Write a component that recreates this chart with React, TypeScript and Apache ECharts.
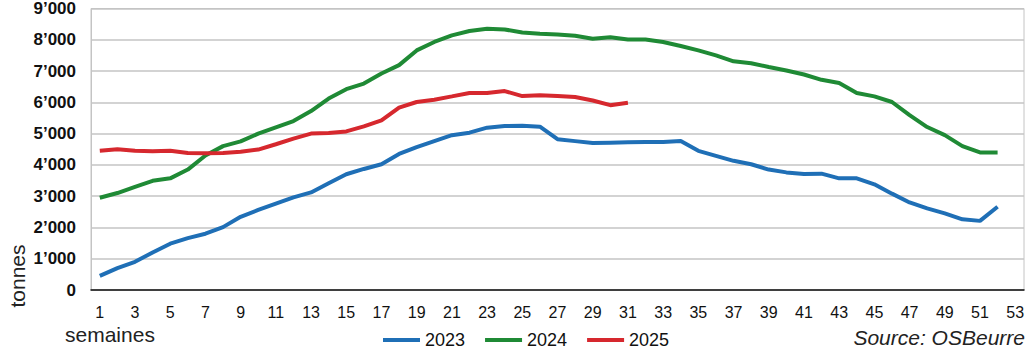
import React, { useEffect, useRef } from "react";
import * as echarts from "echarts";

const weeks = [
  "1", "2", "3", "4", "5", "6", "7", "8", "9", "10", "11", "12", "13", "14", "15", "16", "17", "18",
  "19", "20", "21", "22", "23", "24", "25", "26", "27", "28", "29", "30", "31", "32", "33", "34", "35",
  "36", "37", "38", "39", "40", "41", "42", "43", "44", "45", "46", "47", "48", "49", "50", "51", "52", "53",
];

const seriesNames = ["2023", "2024", "2025"];

const values2023 = [
  450, 700, 900, 1200, 1480, 1660, 1800, 2010, 2340, 2560, 2760, 2960, 3120, 3410, 3700, 3870, 4020,
  4350, 4570, 4760, 4950, 5030, 5190, 5240, 5250, 5220, 4820, 4760, 4700, 4710, 4720, 4730, 4730, 4760,
  4450, 4290, 4130, 4020, 3850, 3760, 3710, 3720, 3570, 3570, 3380, 3080, 2800, 2610, 2450, 2260, 2210, 2660,
];

const values2024 = [
  2950, 3100, 3300, 3490, 3570, 3850, 4300, 4600, 4750, 5000, 5200, 5400, 5720, 6120, 6420, 6600, 6920,
  7190, 7660, 7930, 8140, 8280, 8350, 8330, 8230, 8190, 8170, 8130, 8030, 8080, 8010, 8010, 7930, 7800,
  7660, 7500, 7310, 7250, 7130, 7020, 6890, 6720, 6620, 6300, 6190, 6010, 5590, 5210, 4950, 4600, 4400, 4400,
];

const values2025 = [
  4450, 4500, 4450, 4440, 4450, 4380, 4370, 4380, 4420, 4490, 4660, 4840, 5000, 5020, 5070, 5230, 5420,
  5830, 6010, 6085, 6190, 6300, 6300, 6360, 6200, 6230, 6200, 6170, 6060, 5910, 5990,
];

const colors = ["#1f6fb6", "#1f8a35", "#d6282e"];

const yTicks = { min: 0, max: 9000, interval: 1000 };

export default function App() {
  const ref = useRef<HTMLDivElement>(null);

  useEffect(() => {
    if (!ref.current) return;
    const chart = echarts.init(ref.current, null, { renderer: "svg" });
    const font = "'Liberation Sans', Arial, sans-serif";
    chart.setOption({
      animation: false,
      textStyle: { fontFamily: font },
      grid: {
        left: 91,
        right: 10,
        top: 8,
        bottom: 65,
        show: true,
        borderColor: "#c4c4c4",
        borderWidth: 1,
      },
      xAxis: {
        type: "category",
        data: weeks,
        boundaryGap: true,
        axisLine: { lineStyle: { color: "#111", width: 1.5 } },
        axisTick: { interval: 0, length: 5, lineStyle: { color: "#111", width: 1.2 } },
        axisLabel: {
          interval: 1,
          margin: 14,
          fontSize: 16,
          color: "#111",
          fontFamily: font,
        },
        splitLine: { show: false },
      },
      yAxis: {
        type: "value",
        min: yTicks.min,
        max: yTicks.max,
        interval: yTicks.interval,
        axisLine: { show: true, lineStyle: { color: "#c4c4c4" } },
        axisTick: { show: false },
        splitLine: { lineStyle: { color: "#c4c4c4", width: 1.5 } },
        axisLabel: {
          margin: 15,
          fontSize: 17,
          fontWeight: "bold",
          color: "#111",
          fontFamily: font,
          formatter: (v: number) => (v === 0 ? "0" : `${v / 1000}’000`),
        },
      },
      legend: {
        data: seriesNames,
        left: 378,
        top: 326,
        icon: "rect",
        itemWidth: 37,
        itemHeight: 4,
        itemGap: 20,
        textStyle: { fontSize: 18, color: "#111", fontFamily: font },
      },
      graphic: [
        {
          type: "text",
          x: 17,
          y: 276,
          rotation: Math.PI / 2,
          style: {
            text: "tonnes",
            fontSize: 21,
            fontFamily: font,
            fill: "#222",
            textAlign: "center",
            textVerticalAlign: "middle",
          },
        },
        {
          type: "text",
          x: 65,
          y: 334,
          style: {
            text: "semaines",
            fontSize: 21,
            fontFamily: font,
            fill: "#222",
            textAlign: "left",
            textVerticalAlign: "middle",
          },
        },
        {
          type: "text",
          x: 1025,
          y: 337,
          style: {
            text: "Source: OSBeurre",
            fontSize: 21,
            fontStyle: "italic",
            fontFamily: font,
            fill: "#222",
            textAlign: "right",
            textVerticalAlign: "middle",
          },
        },
      ],
      series: [
        { name: seriesNames[0], type: "line", data: values2023, symbol: "none", lineStyle: { width: 4, color: colors[0] }, itemStyle: { color: colors[0] } },
        { name: seriesNames[1], type: "line", data: values2024, symbol: "none", lineStyle: { width: 4, color: colors[1] }, itemStyle: { color: colors[1] } },
        { name: seriesNames[2], type: "line", data: values2025, symbol: "none", lineStyle: { width: 4, color: colors[2] }, itemStyle: { color: colors[2] } },
      ],
    });
    return () => chart.dispose();
  }, []);

  return (
    <div
      ref={ref}
      style={{ position: "absolute", left: 0, top: 0, width: 1034, height: 355, background: "#fff" }}
    />
  );
}
